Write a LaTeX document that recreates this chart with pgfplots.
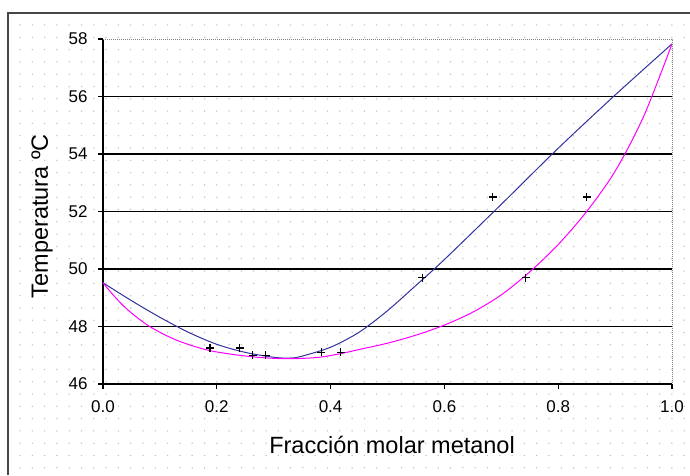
\documentclass[border=0pt]{standalone}
\usepackage{fontspec}
\setmainfont{Liberation Sans}
\usepackage{pgfplots}
\pgfplotsset{compat=1.18}
\definecolor{curveblue}{RGB}{50,50,160}
\definecolor{curvemag}{RGB}{255,0,255}
\definecolor{dotgray}{RGB}{190,190,190}
\definecolor{framegray}{RGB}{70,70,70}

\begin{document}
\begin{tikzpicture}[x=1pt,y=1pt]
\useasboundingbox (0,0) rectangle (690,475);
\fill[white] (0,0) rectangle (690,475);
% excel style dotted background
\foreach \i in {0,...,54}{\foreach \j in {0,...,36}{
  \fill[dotgray] (20+12.3*\i, 450-12.3*\j) circle (0.75);}}
\draw[framegray, line width=2] (8,0) -- (8,462) -- (690,462);
\begin{axis}[
  at={(103pt,91pt)}, anchor=south west,
  scale only axis, width=569pt, height=345pt,
  xmin=0, xmax=1, ymin=46, ymax=58,
  xtick={0,0.2,0.4,0.6,0.8,1.0},
  ytick={46,48,50,52,54,56,58},
  axis x line*=bottom, axis y line*=left,
  axis line style={-, black, line width=1.2pt},
  tick align=outside, major tick length=5pt,
  tick style={black, line width=1.2pt},
  xticklabel style={/pgf/number format/fixed, /pgf/number format/fixed zerofill,
                    /pgf/number format/precision=1, yshift=-8pt},
  yticklabel style={xshift=-7pt},
  /pgf/number format/assume math mode=true,
  tick label style={font=\fontsize{17}{19}\selectfont},
  xlabel={Fracción molar metanol},
  ylabel={Temperatura ºC},
  label style={font=\fontsize{23.5}{27}\selectfont},
  xlabel style={at={(axis description cs:0.508,-0.177)}, anchor=center},
  ylabel style={at={(axis description cs:-0.107,0.486)}, anchor=center},
  clip=false
]
\pgfplotsinvokeforeach{48,50,52,54,56}{
  \draw[black, line width=1.1pt] (axis cs:0,#1) -- (axis cs:1,#1);}
\draw[gray, densely dotted, line width=1pt] (axis cs:0,58) -- (axis cs:1,58) -- (axis cs:1,46);
% dew curve
\addplot[curveblue, line width=1pt, smooth, tension=0.5] coordinates {
  (0,49.52) (0.05,48.9) (0.1,48.32) (0.15,47.8) (0.2,47.38)
  (0.25,47.1) (0.3,46.93) (0.33,46.9) (0.35,46.97) (0.4,47.28)
  (0.45,47.8) (0.5,48.55) (0.55,49.43) (0.6,50.33) (0.7,52.25)
  (0.8,54.2) (0.9,56.05) (1.0,57.83)};
% bubble curve
\addplot[curvemag, line width=1pt, smooth, tension=0.5] coordinates {
  (0,49.52) (0.02,49.05) (0.044,48.57) (0.082,48.0) (0.13,47.52)
  (0.188,47.16) (0.261,46.95) (0.32,46.88) (0.375,46.92) (0.416,47.05)
  (0.45,47.2) (0.5,47.42) (0.55,47.7) (0.6,48.05) (0.65,48.5)
  (0.7,49.1) (0.75,49.9) (0.8,50.85) (0.85,52.0) (0.9,53.4)
  (0.95,55.3) (1.0,57.83)};
% experimental points
\addplot[only marks, mark=+, mark size=4pt, black, line width=1.3pt] coordinates {
  (0.188,47.25) (0.24,47.25) (0.263,47.0) (0.286,47.0) (0.384,47.1)
  (0.418,47.1) (0.561,49.7) (0.743,49.7) (0.685,52.5) (0.85,52.5)};
\end{axis}
\end{tikzpicture}
\end{document}
